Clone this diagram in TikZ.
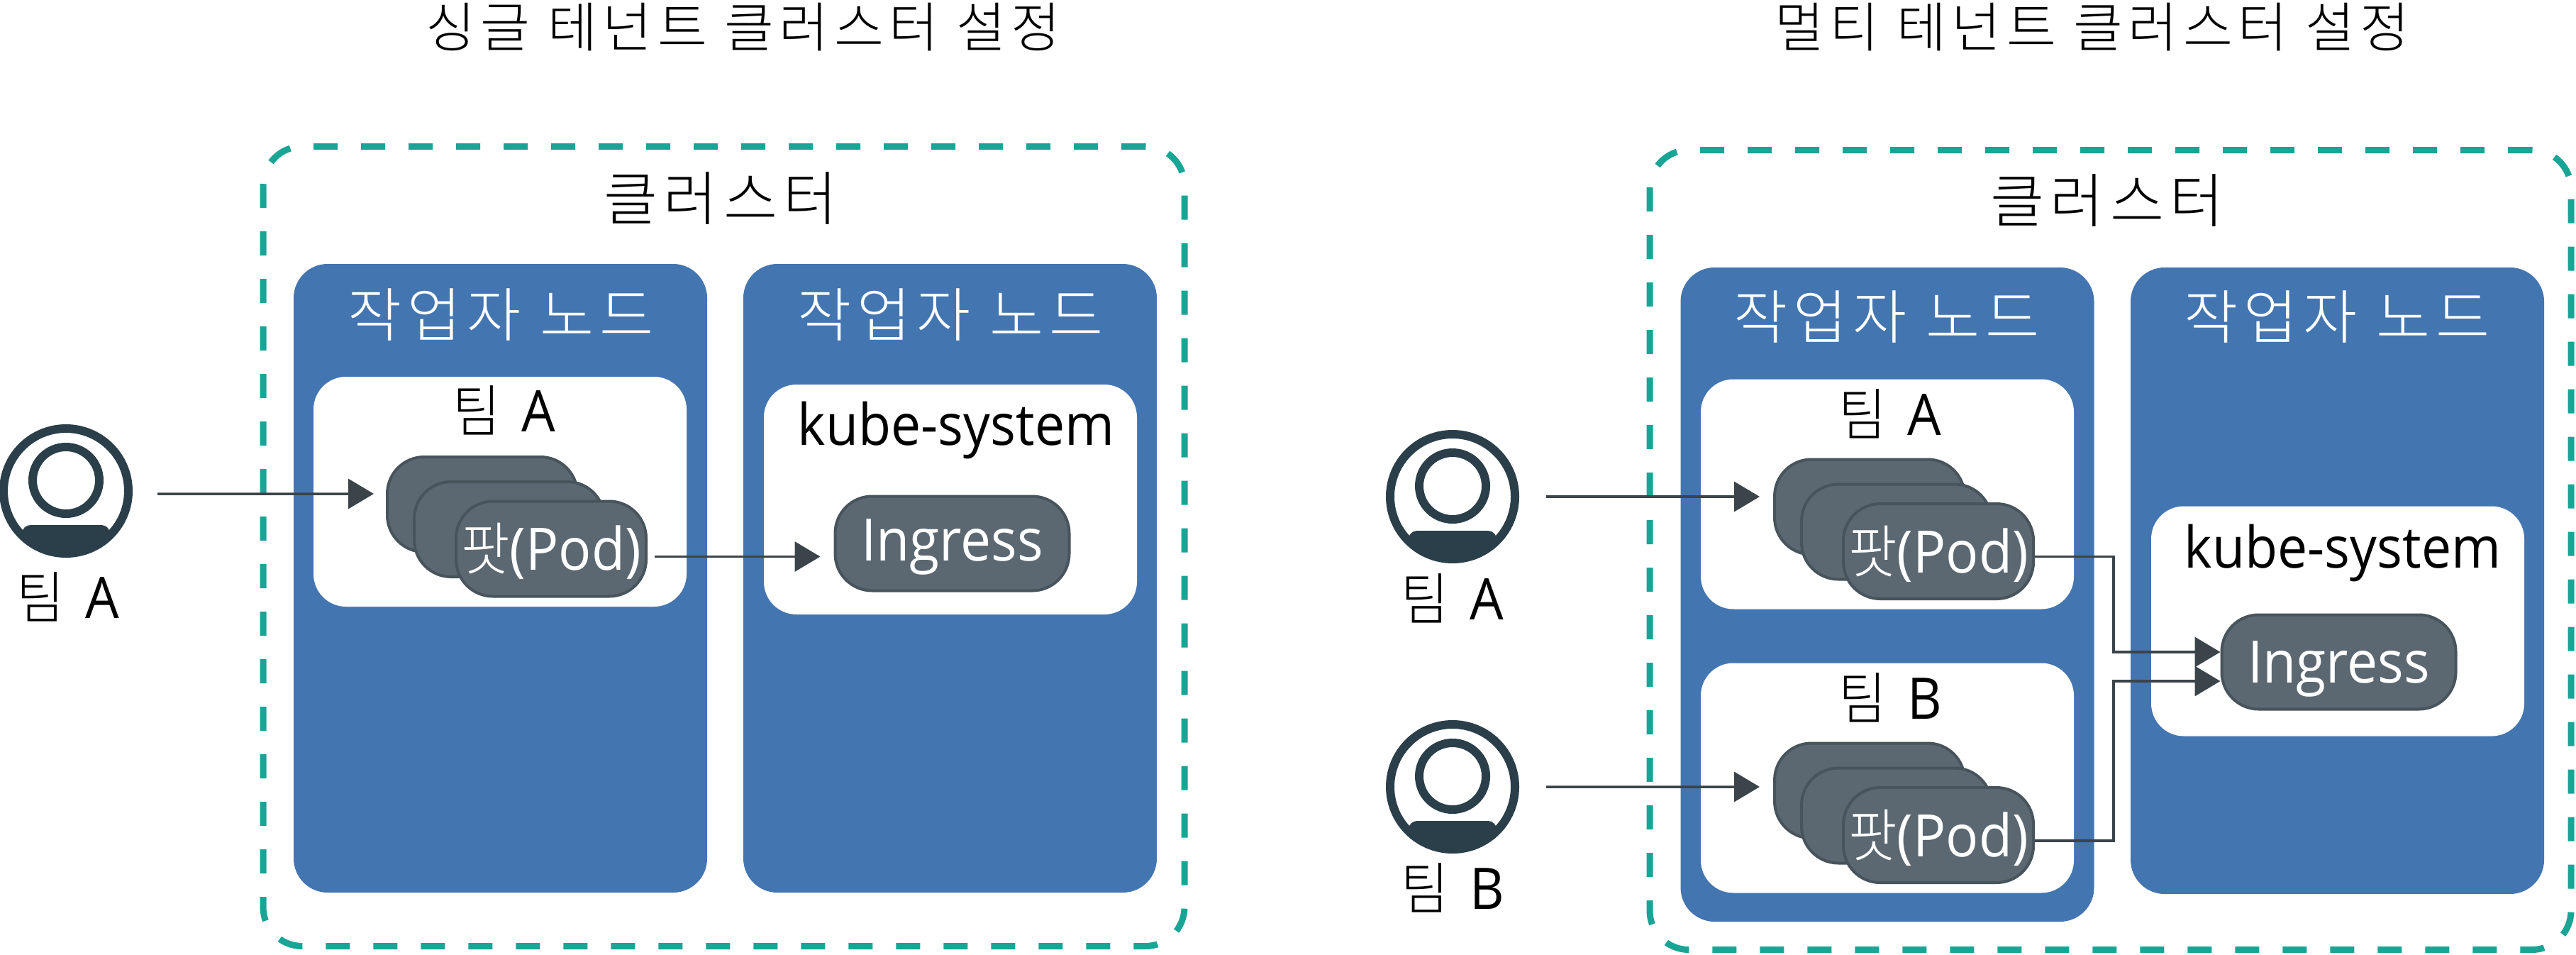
\documentclass[tikz,border=0pt]{standalone}
\usepackage{fontspec}
\setmainfont[FakeStretch=0.93]{Open Sans}
\newfontfamily\cjk[LetterSpace=10,Scale=1.12,UprightFont=* Light]{Noto Sans CJK KR}
\newfontfamily\cjkin[LetterSpace=10,Scale=0.98,FakeStretch=0.92,UprightFont=* Light]{Noto Sans CJK KR}
\usepackage{xcolor}
\usetikzlibrary{arrows.meta,positioning,calc}
\definecolor{nodeblue}{HTML}{4375B1}
\definecolor{dashteal}{HTML}{19A596}
\definecolor{podfill}{HTML}{5B6871}
\definecolor{podline}{HTML}{47545C}
\definecolor{arrowgrey}{HTML}{3B4448}
\definecolor{persondark}{HTML}{2B3F4A}

\begin{document}
\begin{tikzpicture}[x=1cm,y=-1cm,
    clusterbox/.style={draw=dashteal, line width=0.09cm, dash pattern=on 0.34cm off 0.33cm, rounded corners=0.55cm, minimum width=12.99cm, minimum height=11.27cm},
    workerbox/.style={fill=nodeblue, rounded corners=0.48cm, minimum width=5.83cm, text=white},
    whitebox/.style={fill=white, rounded corners=0.46cm, minimum width=5.26cm, minimum height=3.24cm},
    podbox/.style={draw=podline, fill=podfill, line width=0.04cm, rounded corners=0.52cm, minimum width=2.68cm, minimum height=1.34cm, inner sep=0pt, text=white, text height=0.8cm, text depth=0.2cm, font=\fontsize{23.5}{27}\selectfont},
    ingressbox/.style={draw=podline, fill=podfill, line width=0.04cm, rounded corners=0.52cm, minimum width=3.3cm, minimum height=1.33cm, inner sep=0pt, text=white, text height=0.8cm, text depth=0.22cm, font=\fontsize{23.5}{27}\selectfont},
    titlelbl/.style={font=\fontsize{19.3}{23}\selectfont},
    biglbl/.style={font=\fontsize{21}{25}\selectfont},
    teamlbl/.style={font=\fontsize{23}{27}\selectfont},
    flow/.style={draw=arrowgrey, line width=0.035cm, -{Triangle[length=0.36cm,width=0.42cm]}},
    person/.pic={
      \begin{scope}
        \clip (0,0) circle (0.9cm);
        \fill[persondark, rounded corners=0.12cm] (-0.62,0.48) rectangle (0.62,1.1);
      \end{scope}
      \node[circle, draw=persondark, line width=0.12cm, minimum size=1.76cm, inner sep=0pt] (-ring) at (0,0) {};
      \node[circle, draw=persondark, line width=0.12cm, minimum size=0.94cm, inner sep=0pt] (-head) at (0,-0.15) {};
    }]
  \useasboundingbox (0,0) rectangle (36.32,13.45);
  % ---------- single tenant ----------
  \node[titlelbl] (titleS) at (10.48,0.38) {\cjk 싱글 테넌트 클러스터 설정};
  \node[clusterbox] (clusterS) at (10.205,7.7) {};
  \node[biglbl] (clusterlblS) at (10.16,2.8) {\cjk 클러스터};
  \node[workerbox, minimum height=8.86cm] (workerSa) at (7.055,8.15) {};
  \node[workerbox, minimum height=8.86cm] (workerSb) at (13.395,8.15) {};
  \node[biglbl, text=white] (workerlblSa) at (7.06,4.44) {\cjk 작업자 노드};
  \node[biglbl, text=white] (workerlblSb) at (13.4,4.44) {\cjk 작업자 노드};
  \node[whitebox] (teamS) at (7.05,6.93) {};
  \node[teamlbl] (teamlblS) at (7.11,5.78) {{\cjkin 팀}\hspace{0.3cm}A};
  \node[podbox] (podSa) at (6.8,7.11) {};
  \node[podbox] (podSb) at (7.18,7.46) {};
  \node[podbox] (podSc) at (7.77,7.735) {{\cjkin 팟}(Pod)};
  \node[whitebox] (kubeS) at (13.4,7.04) {};
  \node[teamlbl] (kubelblS) at (13.48,6.06) {kube-system};
  \node[ingressbox] (ingressS) at (13.425,7.66) {\raisebox{0.05cm}{Ingress}};
  \pic (persS) at (0.93,6.92) {person};
  \node[teamlbl] (perslblS) at (0.96,8.41) {{\cjkin 팀}\hspace{0.3cm}A};
  \draw[flow] ([xshift=0.35cm,yshift=-0.04cm]persS-ring.east) -- ([xshift=-0.17cm,yshift=0.15cm]podSa.west);
  \coordinate (outS) at ([xshift=0.1cm,yshift=-0.11cm]podSc.east);
  \draw[flow] (outS) -- ([xshift=-0.19cm]ingressS.west |- outS);
  % ---------- multi tenant ----------
  \node[titlelbl] (titleM) at (29.5,0.38) {\cjk 멀티 테넌트 클러스터 설정};
  \node[clusterbox] (clusterM) at (29.755,7.75) {};
  \node[biglbl] (clusterlblM) at (29.71,2.83) {\cjk 클러스터};
  \node[workerbox, minimum height=9.22cm] (workerMa) at (26.61,8.38) {};
  \node[workerbox, minimum height=8.83cm] (workerMb) at (32.955,8.185) {};
  \node[biglbl, text=white] (workerlblMa) at (26.6,4.47) {\cjk 작업자 노드};
  \node[biglbl, text=white] (workerlblMb) at (32.95,4.47) {\cjk 작업자 노드};
  \node[whitebox] (teamMa) at (26.61,6.965) {};
  \node[teamlbl] (teamlblMa) at (26.65,5.83) {{\cjkin 팀}\hspace{0.3cm}A};
  \node[podbox] (podMa) at (26.36,7.145) {};
  \node[podbox] (podMb) at (26.74,7.495) {};
  \node[podbox] (podMc) at (27.33,7.77) {{\cjkin 팟}(Pod)};
  \node[whitebox] (teamMb) at (26.61,10.965) {};
  \node[teamlbl] (teamlblMb) at (26.65,9.83) {{\cjkin 팀}\hspace{0.3cm}B};
  \node[podbox] (podMd) at (26.36,11.145) {};
  \node[podbox] (podMe) at (26.74,11.495) {};
  \node[podbox] (podMf) at (27.33,11.77) {{\cjkin 팟}(Pod)};
  \node[whitebox] (kubeM) at (32.96,8.755) {};
  \node[teamlbl] (kubelblM) at (33.03,7.79) {kube-system};
  \node[ingressbox] (ingressM) at (32.975,9.33) {Ingress};
  \pic (persMa) at (20.48,7.0) {person};
  \node[teamlbl] (perslblMa) at (20.48,8.43) {{\cjkin 팀}\hspace{0.3cm}A};
  \pic (persMb) at (20.48,11.09) {person};
  \node[teamlbl] (perslblMb) at (20.48,12.51) {{\cjkin 팀}\hspace{0.3cm}B};
  \draw[flow] ([xshift=0.38cm]persMa-ring.east) -- ([xshift=-0.19cm,yshift=0.145cm]podMa.west);
  \draw[flow] ([xshift=0.38cm]persMb-ring.east) -- ([xshift=-0.19cm,yshift=0.055cm]podMd.west);
  \coordinate (inMa) at ([yshift=0.14cm]ingressM.west);
  \coordinate (inMb) at ([yshift=-0.27cm]ingressM.west);
  \coordinate (turnMa) at (29.8,9.19);
  \coordinate (turnMb) at (29.8,9.6);
  \draw[flow] ([yshift=-0.075cm]podMc.east) -| (turnMa) -- (inMa);
  \draw[flow] ([yshift=-0.08cm]podMf.east) -| (turnMb) -- (inMb);
\end{tikzpicture}
\end{document}
